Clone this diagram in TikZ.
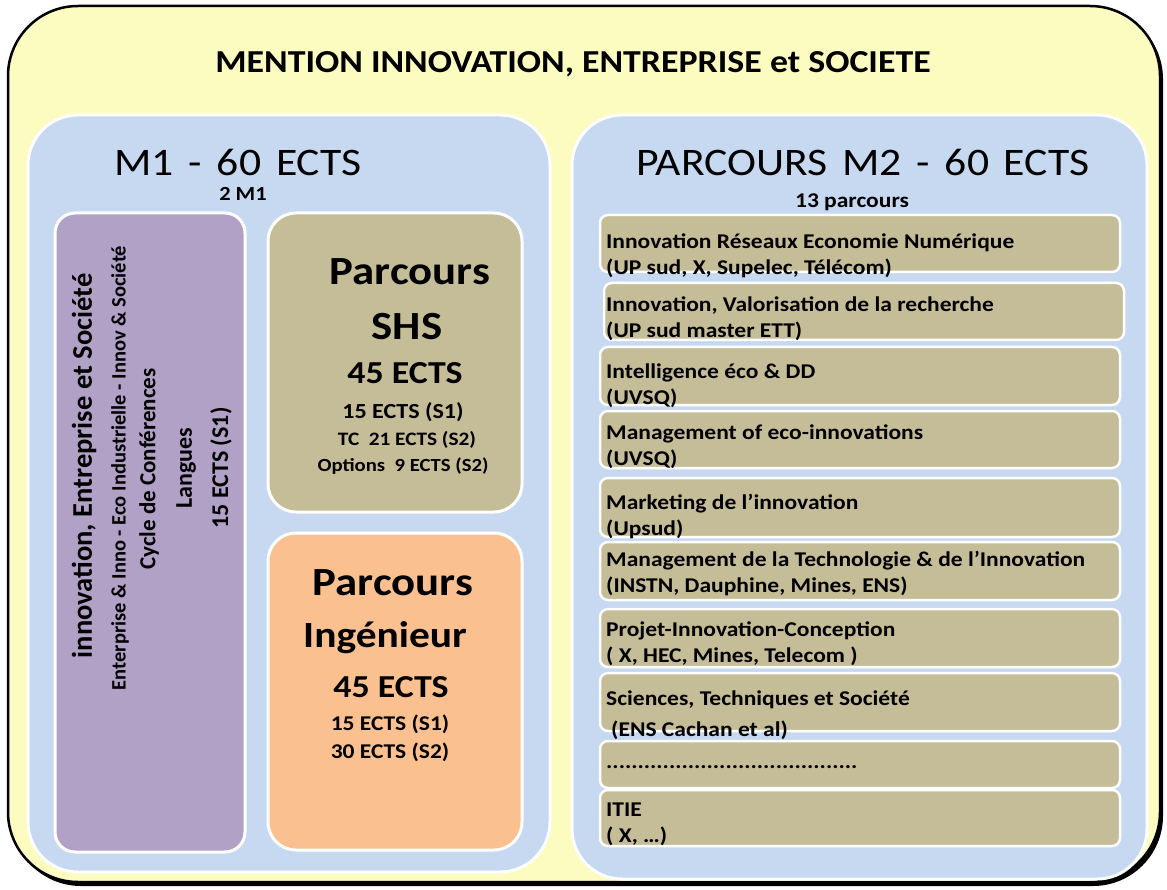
\documentclass[tikz,border=0pt]{standalone}
\usepackage{fontspec}
\setmainfont{Carlito}[FakeStretch=1.12]
\newfontfamily\rotfont{Carlito}
\definecolor{yel}{HTML}{FCFBC0}
\definecolor{pblue}{HTML}{C6D9F0}
\definecolor{purp}{HTML}{B2A1C7}
\definecolor{tanc}{HTML}{C4BD97}
\definecolor{orng}{HTML}{FAC090}
\newcommand{\fsz}[1]{\fontsize{#1}{1.2\dimexpr #1pt\relax}\selectfont}
\newcommand{\wsp}{\hspace{0.38em}}
\begin{document}
\begin{tikzpicture}[x=1pt,y=-1pt,
  outer/.style={fill=yel,draw=black,line width=2.5pt,rounded corners=70pt},
  shadowbox/.style={fill=black,rounded corners=70pt},
  panel/.style={fill=pblue,draw=white,line width=3pt,rounded corners=50pt},
  card/.style={draw=white,line width=3pt,rounded corners=#1},
  item/.style={fill=tanc,draw=white,line width=2.5pt,rounded corners=8pt},
  txt/.style={inner sep=0pt,text=black},
  itemtext/.style={txt,anchor=west,align=left,font=\bfseries\fontsize{21}{26}\selectfont},
  rot/.style={txt,rotate=90}
]
\useasboundingbox (0,0) rectangle (1167,890);
% outer frame with shadow
\fill[shadowbox] (11,9) rectangle (1163,886);
\draw[outer] (8,6) rectangle (1160,882);
% panels
\draw[panel] (28,115) rectangle (550,872);
\draw[panel] (572,115) rectangle (1147,879);
% cards
\draw[card=20pt,fill=purp] (55,213) rectangle (245,852);
\draw[card=28pt,fill=tanc] (268,213) rectangle (522,512);
\draw[card=28pt,fill=orng] (268,533) rectangle (522,850);
% list items
\foreach \t/\b/\l in {215/272/600,283/340/604,347/405/600,411/468/600,478/537/600,542/600/600,609/667/600,673/731/600,741/788/600,790/846/600}
  \draw[item] (\l,\t) rectangle ({\l+520},\b);

% title
\node[txt,font=\bfseries\fsz{32}] (title) at (573,64) {MENTION INNOVATION, ENTREPRISE et SOCIETE};
% M1 panel
\node[txt,font=\fsz{39}] (m1) at (238,162) {M1\wsp-\wsp60\wsp ECTS};
\node[txt,font=\bfseries\fsz{20}] (m1sub) at (243,194) {2 M1};
% M2 panel
\node[txt,font=\fsz{39}] (m2) at (863,162) {PARCOURS\wsp M2\wsp-\wsp60\wsp ECTS};
\node[txt,font=\bfseries\fsz{21}] (m2sub) at (852,202) {13 parcours};

% purple rotated texts
\node[rot,font=\rotfont\bfseries\fsz{28.5}] (p1) at (84,466) {innovation, Entreprise et Société};
\node[rot,font=\rotfont\bfseries\fsz{20.5}] (p2) at (120,468) {Enterprise \& Inno - Eco Industrielle - Innov \& Société};
\node[rot,font=\rotfont\bfseries\fsz{23}] (p3) at (149,469) {Cycle de Conférences};
\node[rot,font=\rotfont\bfseries\fsz{24}] (p4) at (186,468) {Langues};
\node[rot,font=\rotfont\bfseries\fsz{24}] (p5) at (221,468) {15 ECTS (S1)};

% SHS card
\node[txt,font=\bfseries\fsz{40}] (shs1) at (410,272) {Parcours};
\node[txt,font=\bfseries\fsz{40}] (shs2) at (407,327) {SHS};
\node[txt,font=\bfseries\fsz{32}] (shs3) at (405,373) {45 ECTS};
\node[txt,font=\bfseries\fsz{21.5}] (shs4) at (403,412) {15 ECTS (S1)};
\node[txt,font=\bfseries\fsz{19}] (shs5) at (407,440) {TC~~21 ECTS (S2)};
\node[txt,font=\bfseries\fsz{18.5}] (shs6) at (403,466) {Options~~9 ECTS (S2)};

% Ingenieur card
\node[txt,font=\bfseries\fsz{40}] (ing1) at (393,583) {Parcours};
\node[txt,font=\bfseries\fsz{37}] (ing2) at (385,638) {Ingénieur};
\node[txt,font=\bfseries\fsz{32}] (ing3) at (391,687) {45 ECTS};
\node[txt,font=\bfseries\fsz{21}] (ing4) at (390,724) {15 ECTS (S1)};
\node[txt,font=\bfseries\fsz{21}] (ing5) at (390,752) {30 ECTS (S2)};

% list texts
\node[itemtext] (l1) at (606,256) {Innovation Réseaux Economie Numérique\\(UP sud, X, Supelec, Télécom)};
\node[itemtext] (l2) at (606,319) {Innovation, Valorisation de la recherche\\(UP sud master ETT)};
\node[itemtext] (l3) at (606,386) {Intelligence éco \& DD\\(UVSQ)};
\node[itemtext] (l4) at (606,447) {Management of eco-innovations\\(UVSQ)};
\node[itemtext] (l5) at (606,517) {Marketing de l’innovation\\(Upsud)};
\node[itemtext] (l6) at (606,574) {Management de la Technologie \& de l’Innovation\\(INSTN, Dauphine, Mines, ENS)};
\node[itemtext] (l7) at (606,644) {Projet-Innovation-Conception\\( X, HEC, Mines, Telecom )};
\node[itemtext] (l8) at (606,715) {Sciences, Techniques et Société\\[5pt]\hspace{5pt}(ENS Cachan et al)};
\node[itemtext] (l9) at (606,767) {........................................};
\node[itemtext] (l10) at (606,824) {ITIE\\( X, …)};
\end{tikzpicture}
\end{document}
